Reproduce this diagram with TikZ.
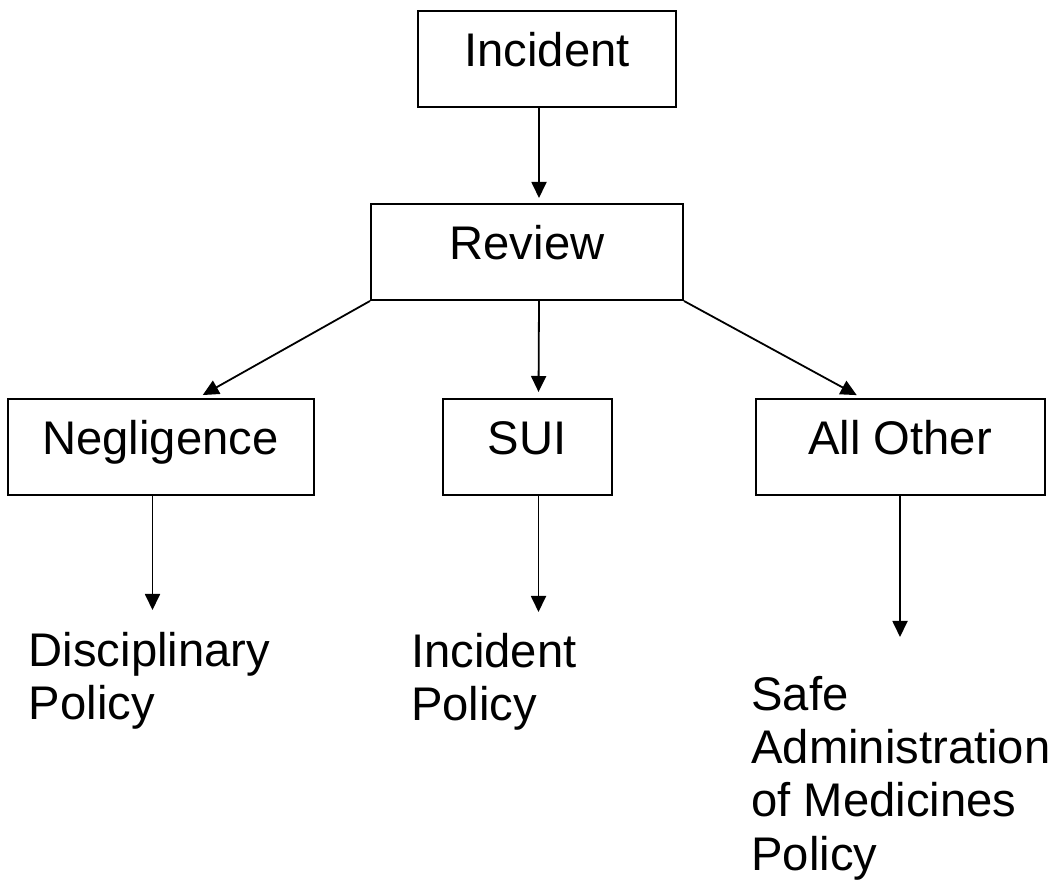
\documentclass[tikz,border=0pt]{standalone}
\usepackage{fontspec}
\setmainfont{Liberation Sans}
\usetikzlibrary{positioning, arrows.meta}

\begin{document}
\begin{tikzpicture}[x=1pt, y=1pt,
        every node/.style={font=\fontsize{23.6}{26.6}\selectfont},
        box/.style={draw, line width=1pt, minimum height=48pt, inner sep=0pt, text height=16.8pt, text depth=9pt},
        policy/.style={anchor=north west, align=left, inner sep=0pt},
        arr/.style={-{Triangle[width=7.5pt, length=8pt]}, line width=0.9pt}]
    \useasboundingbox (0,0) rectangle (529.5,444.5);
    \node [box, minimum width=129pt] (incident) at (273.5,415) {Incident};
    \node [box, minimum width=156pt, below =47.5pt of incident, xshift=-10pt] (review) {Review};
    \node [box, minimum width=84.5pt, below =48.5pt of review] (sui) {SUI};
    \node [box, minimum width=153pt, left =63.5pt of sui] (negl) {Negligence};
    \node [box, minimum width=144.5pt, right =71pt of sui] (other) {All Other};
    \node [policy] (disc) at (14.2,128.5) {Disciplinary\\Policy};
    \node [policy] (incpol) at (205.4,128) {Incident\\Policy};
    \node [policy] (safe) at (375.5,106.5) {Safe\\Administration\\of Medicines\\Policy};
    \draw [arr, shorten >=2.5pt] ([xshift=-4pt]incident.south) -- ([xshift=6pt]review.north);
    \draw [arr, shorten >=3pt] ([xshift=6pt]review.south) -- ([xshift=5.75pt]sui.north);
    \draw [arr, shorten >=3pt] (review.south west) -- ([xshift=18.5pt]negl.north);
    \draw [arr, shorten >=3pt] (review.south east) -- ([xshift=-19pt]other.north);
    \draw [arr, shorten >=11pt] ([xshift=-4pt]negl.south) -- ([xshift=-4pt]negl.south |- disc.north);
    \draw [arr, shorten >=10.5pt] ([xshift=5.75pt]sui.south) -- ([xshift=5.75pt]sui.south |- incpol.north);
    \draw [arr, shorten >=19.5pt] (other.south) -- (other.south |- safe.north);
\end{tikzpicture}
\end{document}
